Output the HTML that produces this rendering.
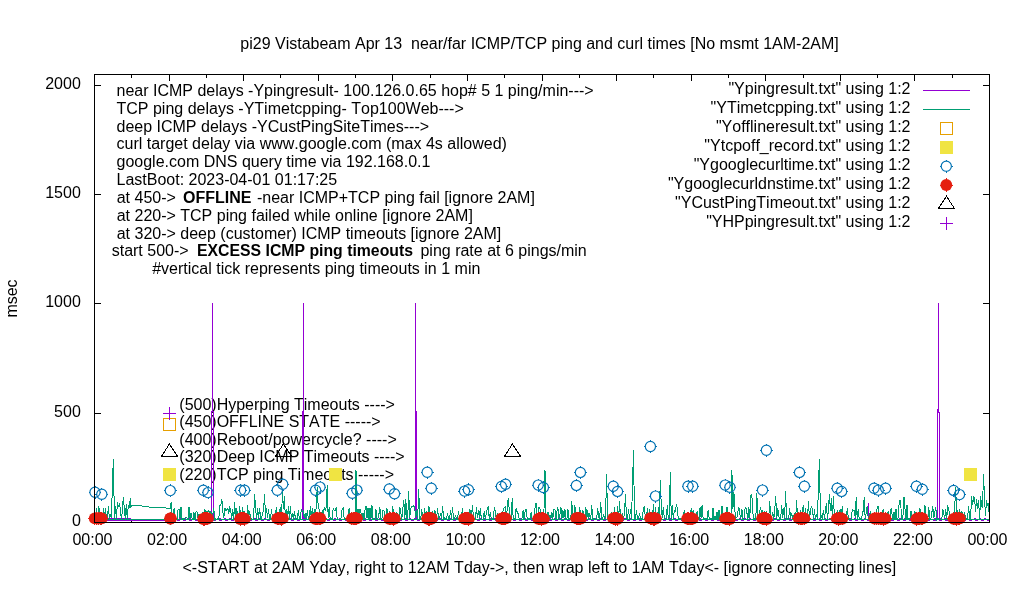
<!DOCTYPE html>
<html><head><meta charset="utf-8"><style>
html,body{margin:0;padding:0;background:#fff;width:1020px;height:600px;overflow:hidden}
svg{display:block;will-change:transform}
text{font-family:"Liberation Sans",sans-serif;-webkit-font-smoothing:antialiased;font-kerning:none}
path,rect,polyline{shape-rendering:crispEdges}
</style></head><body>
<svg width="1020" height="600" viewBox="0 0 1020 600">
<rect width="1020" height="600" fill="#fff"/>
<g font-family="Liberation Sans, sans-serif" font-size="16" fill="#000">
<text x="539.5" y="48.8" text-anchor="middle" xml:space="preserve">pi29 Vistabeam Apr 13  near/far ICMP/TCP ping and curl times [No msmt 1AM-2AM]</text>
<text x="80.8" y="525.8" text-anchor="end">0</text>
<text x="80.8" y="416.8" text-anchor="end">500</text>
<text x="80.8" y="306.8" text-anchor="end">1000</text>
<text x="80.8" y="197.8" text-anchor="end">1500</text>
<text x="80.8" y="88.8" text-anchor="end">2000</text>
<text x="92.5" y="544.7" text-anchor="middle">00:00</text>
<text x="167.1" y="544.7" text-anchor="middle">02:00</text>
<text x="241.7" y="544.7" text-anchor="middle">04:00</text>
<text x="316.2" y="544.7" text-anchor="middle">06:00</text>
<text x="390.8" y="544.7" text-anchor="middle">08:00</text>
<text x="465.4" y="544.7" text-anchor="middle">10:00</text>
<text x="540.0" y="544.7" text-anchor="middle">12:00</text>
<text x="614.6" y="544.7" text-anchor="middle">14:00</text>
<text x="689.2" y="544.7" text-anchor="middle">16:00</text>
<text x="763.8" y="544.7" text-anchor="middle">18:00</text>
<text x="838.3" y="544.7" text-anchor="middle">20:00</text>
<text x="912.9" y="544.7" text-anchor="middle">22:00</text>
<text x="987.5" y="544.7" text-anchor="middle">00:00</text>
<text x="539.3" y="572.7" text-anchor="middle">&lt;-START at 2AM Yday, right to 12AM Tday-&gt;, then wrap left to 1AM Tday&lt;- [ignore connecting lines]</text>
<text transform="translate(17,298.5) rotate(-90)" text-anchor="middle">msec</text>
<text x="116.5" y="95.8" text-anchor="start">near ICMP delays -Ypingresult- 100.126.0.65 hop# 5 1 ping/min---&gt;</text>
<text x="116.5" y="113.65" text-anchor="start">TCP ping delays -YTimetcpping- Top100Web---&gt;</text>
<text x="116.5" y="131.5" text-anchor="start">deep ICMP delays -YCustPingSiteTimes---&gt;</text>
<text x="116.5" y="149.35" text-anchor="start">curl target delay via www.google.com (max 4s allowed)</text>
<text x="116.5" y="167.2" text-anchor="start">google.com DNS query time via 192.168.0.1</text>
<text x="116.5" y="185.05" text-anchor="start">LastBoot: 2023-04-01 01:17:25</text>
<text x="116.7" y="202.9">at 450-&gt;</text>
<text x="183" y="202.9" font-weight="bold">OFFLINE</text>
<text x="252.5" y="202.9" xml:space="preserve"> -near ICMP+TCP ping fail [ignore 2AM]</text>
<text x="116.7" y="220.75" text-anchor="start">at 220-&gt; TCP ping failed while online [ignore 2AM]</text>
<text x="116.7" y="238.6" text-anchor="start">at 320-&gt; deep (customer) ICMP timeouts [ignore 2AM]</text>
<text x="111.7" y="256.45">start 500-&gt;</text>
<text x="197" y="256.45" font-weight="bold" textLength="216" lengthAdjust="spacingAndGlyphs">EXCESS ICMP ping timeouts</text>
<text x="416" y="256.45" xml:space="preserve"> ping rate at 6 pings/min</text>
<text x="152.2" y="274.3" text-anchor="start">#vertical tick represents ping timeouts in 1 min</text>
<text x="179.3" y="409.6" text-anchor="start">(500)Hyperping Timeouts ----&gt;</text>
<text x="179.3" y="427.0" text-anchor="start">(450)OFFLINE STATE -----&gt;</text>
<text x="179.3" y="444.5" text-anchor="start">(400)Reboot/powercycle? ----&gt;</text>
<text x="179.3" y="462.1" text-anchor="start">(320)Deep ICMP Timeouts ----&gt;</text>
<text x="179.3" y="479.8" text-anchor="start">(220)TCP ping Timeouts -----&gt;</text>
<text x="910.5" y="93.7" text-anchor="end">"Ypingresult.txt" using 1:2</text>
<text x="910.5" y="112.7" text-anchor="end">"YTimetcpping.txt" using 1:2</text>
<text x="910.5" y="131.7" text-anchor="end">"Yofflineresult.txt" using 1:2</text>
<text x="910.5" y="150.7" text-anchor="end">"Ytcpoff_record.txt" using 1:2</text>
<text x="910.5" y="169.7" text-anchor="end">"Ygooglecurltime.txt" using 1:2</text>
<text x="910.5" y="188.7" text-anchor="end">"Ygooglecurldnstime.txt" using 1:2</text>
<text x="910.5" y="207.7" text-anchor="end">"YCustPingTimeout.txt" using 1:2</text>
<text x="910.5" y="226.7" text-anchor="end">"YHPpingresult.txt" using 1:2</text>
</g>
<path d="M94.5 85.5h6.5M989.5 85.5h-6.5M94.5 194.5h6.5M989.5 194.5h-6.5M94.5 303.5h6.5M989.5 303.5h-6.5M94.5 413.5h6.5M989.5 413.5h-6.5M131.5 522.5v-3.5M131.5 74.5v3.5M169.5 522.5v-6.5M169.5 74.5v6.5M206.5 522.5v-3.5M206.5 74.5v3.5M243.5 522.5v-6.5M243.5 74.5v6.5M280.5 522.5v-3.5M280.5 74.5v3.5M318.5 522.5v-6.5M318.5 74.5v6.5M355.5 522.5v-3.5M355.5 74.5v3.5M392.5 522.5v-6.5M392.5 74.5v6.5M430.5 522.5v-3.5M430.5 74.5v3.5M467.5 522.5v-6.5M467.5 74.5v6.5M504.5 522.5v-3.5M504.5 74.5v3.5M542.5 522.5v-6.5M542.5 74.5v6.5M579.5 522.5v-3.5M579.5 74.5v3.5M616.5 522.5v-6.5M616.5 74.5v6.5M653.5 522.5v-3.5M653.5 74.5v3.5M691.5 522.5v-6.5M691.5 74.5v6.5M728.5 522.5v-3.5M728.5 74.5v3.5M765.5 522.5v-6.5M765.5 74.5v6.5M803.5 522.5v-3.5M803.5 74.5v3.5M840.5 522.5v-6.5M840.5 74.5v6.5M877.5 522.5v-3.5M877.5 74.5v3.5M914.5 522.5v-6.5M914.5 74.5v6.5M952.5 522.5v-3.5M952.5 74.5v3.5" stroke="#000" stroke-width="1" fill="none"/>
<g>
<polyline points="169.1,518.5 989.5,518.5" fill="none" stroke="#9400d3" stroke-width="1.0" stroke-linejoin="miter" shape-rendering="crispEdges" stroke-dasharray="2 3"/>
<polyline points="989.5,520.5 94.5,520.5" fill="none" stroke="#9400d3" stroke-width="1.0" stroke-linejoin="miter" shape-rendering="crispEdges" stroke-dasharray="3 3"/>
<polyline points="100.0,520.5 170.0,520.5" fill="none" stroke="#9400d3" stroke-width="1.0" stroke-linejoin="miter" shape-rendering="crispEdges"/>
<polyline points="100.0,518.5 131.0,518.5" fill="none" stroke="#9400d3" stroke-width="1.0" stroke-linejoin="miter" shape-rendering="crispEdges"/>
<path d="M211.5 519V411.5H212.5V303V411H213.5V519M302.5 519V411H303.5V303V519M415.5 519V303V411H416.5V519M937.5 519V409H938.5V303V412H939.5V519M868.5 519V503" stroke="#9400d3" stroke-width="1" fill="none"/>
<polyline points="169.1,508.8 170.1,508.6 171.1,502.2 172.1,518.5 173.1,517.9 174.1,508.1 175.1,518.8 176.0,519.4 177.0,519.7 178.0,509.8 179.0,509.3 180.0,517.9 181.0,506.8 182.0,519.2 183.0,518.3 184.0,518.2 185.0,518.0 186.0,517.0 187.0,517.9 188.0,519.6 189.0,507.3 190.0,518.0 191.0,513.4 192.0,518.3 193.0,518.7 193.9,512.3 194.9,519.5 195.9,512.0 196.9,511.0 197.9,518.2 198.9,513.7 199.9,518.3 200.9,519.2 201.9,519.6 202.9,511.7 203.9,518.0 204.9,508.7 205.9,518.1 206.9,511.6 207.9,512.2 208.9,509.9 209.9,519.3 210.9,511.5 211.8,519.4 212.8,514.3 213.8,508.4 214.8,519.7 215.8,518.9 216.8,519.4 217.8,518.7 218.8,519.1 219.8,505.2 220.8,505.0 221.8,498.9 222.8,510.9 223.8,518.4 224.8,507.6 225.8,510.5 226.8,510.0 227.8,508.3 228.8,514.0 229.7,507.6 230.7,509.8 231.7,519.7 232.7,509.4 233.7,518.6 234.7,502.2 235.7,519.4 236.7,508.1 237.7,518.5 238.7,518.9 239.7,506.2 240.7,519.2 241.7,518.8 242.7,506.8 243.7,519.4 244.7,511.3 245.7,518.8 246.7,518.2 247.6,504.9 248.6,518.4 249.6,511.0 250.6,518.9 251.6,518.2 252.6,519.5 253.6,518.6 254.6,493.7 255.6,507.9 256.6,519.7 257.6,507.7 258.6,518.5 259.6,508.4 260.6,518.1 261.6,518.0 262.6,513.2 263.6,510.3 264.6,494.0 265.5,518.4 266.5,508.2 267.5,517.9 268.5,509.0 269.5,518.2 270.5,519.6 271.5,508.9 272.5,518.2 273.5,518.3 274.5,519.1 275.5,513.0 276.5,506.8 277.5,518.0 278.5,519.3 279.5,511.2 280.5,506.8 281.5,518.2 282.5,490.0 283.4,508.7 284.4,495.7 285.4,518.3 286.4,509.3 287.4,519.0 288.4,506.1 289.4,518.9 290.4,506.3 291.4,518.6 292.4,513.2 293.4,519.3 294.4,510.8 295.4,518.4 296.4,518.8 297.4,519.4 298.4,509.8 299.4,519.5 300.3,518.6 301.3,509.0 302.3,511.8 303.3,510.9 304.3,517.9 305.3,513.1 306.3,519.6 307.3,509.9 308.3,518.5 309.3,519.4 310.3,506.2 311.3,518.3 312.3,507.9 313.3,519.7 314.3,509.1 315.3,519.4 316.3,505.0 317.3,487.0 318.2,507.4 319.2,509.8 320.2,518.2 321.2,518.9 322.2,510.1 323.2,519.7 324.2,507.1 325.2,510.1 326.2,507.1 327.2,485.0 328.2,518.1 329.2,507.4 330.2,519.6 331.2,518.9 332.2,519.1 333.2,508.3 334.2,510.7 335.2,510.2 336.1,507.4 337.1,518.4 338.1,519.0 339.1,519.4 340.1,519.6 341.1,518.1 342.1,509.2 343.1,508.2 344.1,518.3 345.1,518.0 346.1,518.9 347.1,518.8 348.1,514.5 349.1,508.5 350.1,518.7 351.1,518.4 352.1,519.7 353.1,519.7 354.0,518.3 355.0,518.1 356.0,470.2 357.0,518.1 358.0,509.4 359.0,518.0 360.0,509.5 361.0,513.4 362.0,519.7 363.0,513.3 364.0,519.3 365.0,509.9 366.0,505.7 367.0,518.1 368.0,508.3 369.0,518.7 370.0,508.3 371.0,517.9 371.9,504.6 372.9,518.6 373.9,518.7 374.9,519.6 375.9,508.9 376.9,519.4 377.9,518.4 378.9,514.2 379.9,507.4 380.9,518.2 381.9,518.5 382.9,510.8 383.9,509.9 384.9,519.6 385.9,518.7 386.9,507.9 387.9,519.4 388.9,514.0 389.8,511.2 390.8,519.1 391.8,518.4 392.8,506.1 393.8,518.3 394.8,519.2 395.8,518.0 396.8,511.6 397.8,519.0 398.8,519.4 399.8,507.2 400.8,512.5 401.8,519.7 402.8,508.9 403.8,499.8 404.8,519.6 405.8,499.0 406.8,518.5 407.7,519.3 408.7,491.4 409.7,517.9 410.7,509.3 411.7,506.2 412.7,506.7 413.7,505.6 414.7,507.1 415.7,518.4 416.7,510.3 417.7,519.2 418.7,489.0 419.7,518.3 420.7,519.6 421.7,508.6 422.7,519.4 423.7,519.3 424.7,508.5 425.6,519.4 426.6,510.9 427.6,519.3 428.6,506.2 429.6,509.4 430.6,518.3 431.6,518.8 432.6,511.3 433.6,519.7 434.6,510.4 435.6,512.8 436.6,518.1 437.6,508.2 438.6,519.5 439.6,516.8 440.6,514.0 441.6,518.9 442.6,505.7 443.6,518.3 444.5,518.0 445.5,518.2 446.5,518.7 447.5,512.8 448.5,519.6 449.5,518.9 450.5,510.5 451.5,518.9 452.5,506.9 453.5,518.4 454.5,518.7 455.5,516.1 456.5,518.6 457.5,519.0 458.5,511.1 459.5,519.3 460.5,518.4 461.5,518.0 462.4,507.6 463.4,519.5 464.4,518.5 465.4,512.5 466.4,513.9 467.4,519.0 468.4,518.0 469.4,509.2 470.4,510.2 471.4,519.0 472.4,505.2 473.4,515.7 474.4,519.6 475.4,518.8 476.4,507.0 477.4,518.1 478.4,510.5 479.4,517.9 480.3,507.7 481.3,518.6 482.3,519.6 483.3,518.7 484.3,510.8 485.3,519.5 486.3,513.1 487.3,508.8 488.3,507.0 489.3,519.2 490.3,511.7 491.3,518.7 492.3,519.7 493.3,517.9 494.3,508.1 495.3,510.3 496.3,519.4 497.3,513.0 498.2,518.8 499.2,518.7 500.2,518.6 501.2,518.5 502.2,518.0 503.2,509.5 504.2,507.4 505.2,506.9 506.2,518.7 507.2,509.1 508.2,498.1 509.2,508.5 510.2,519.6 511.2,518.9 512.2,498.4 513.2,519.2 514.2,519.3 515.2,518.1 516.1,508.0 517.1,511.9 518.1,513.7 519.1,518.0 520.1,519.3 521.1,519.1 522.1,518.1 523.1,510.1 524.1,519.7 525.1,511.0 526.1,509.5 527.1,518.1 528.1,518.2 529.1,518.9 530.1,518.1 531.1,512.2 532.1,519.7 533.1,518.4 534.0,518.1 535.0,507.7 536.0,503.0 537.0,519.4 538.0,519.3 539.0,507.2 540.0,508.6 541.0,518.5 542.0,518.6 543.0,517.9 544.0,509.0 545.0,470.0 546.0,518.3 547.0,519.2 548.0,511.6 549.0,518.1 550.0,515.2 551.0,518.0 551.9,512.5 552.9,518.5 553.9,509.1 554.9,509.1 555.9,519.4 556.9,511.8 557.9,507.2 558.9,518.7 559.9,515.1 560.9,506.6 561.9,518.8 562.9,509.7 563.9,518.1 564.9,508.9 565.9,519.2 566.9,519.2 567.9,509.1 568.9,518.2 569.8,519.3 570.8,518.5 571.8,501.2 572.8,517.9 573.8,518.8 574.8,505.1 575.8,515.0 576.8,519.0 577.8,519.0 578.8,519.7 579.8,507.4 580.8,518.7 581.8,518.9 582.8,510.4 583.8,515.0 584.8,519.1 585.8,506.6 586.8,519.0 587.7,510.3 588.7,519.4 589.7,512.7 590.7,519.2 591.7,504.8 592.7,519.0 593.7,518.5 594.7,519.2 595.7,519.4 596.7,519.0 597.7,507.7 598.7,518.0 599.7,518.3 600.7,502.0 601.7,518.1 602.7,518.3 603.7,514.6 604.7,519.5 605.6,515.2 606.6,474.0 607.6,518.5 608.6,519.4 609.6,518.4 610.6,519.0 611.6,511.9 612.6,519.7 613.6,518.6 614.6,507.1 615.6,518.0 616.6,518.5 617.6,505.7 618.6,519.6 619.6,501.4 620.6,519.2 621.6,519.0 622.6,512.6 623.5,519.1 624.5,512.9 625.5,494.0 626.5,519.0 627.5,518.8 628.5,509.5 629.5,519.1 630.5,508.8 631.5,518.9 632.5,485.0 633.5,450.0 634.5,519.0 635.5,518.2 636.5,510.3 637.5,518.8 638.5,519.1 639.5,512.9 640.5,519.3 641.4,518.7 642.4,519.3 643.4,508.1 644.4,506.9 645.4,518.1 646.4,518.4 647.4,507.9 648.4,518.6 649.4,508.8 650.4,518.8 651.4,519.3 652.4,519.4 653.4,504.5 654.4,519.5 655.4,507.3 656.4,518.1 657.4,519.3 658.4,507.2 659.3,518.4 660.3,480.0 661.3,506.8 662.3,518.4 663.3,506.9 664.3,518.5 665.3,519.4 666.3,518.7 667.3,505.4 668.3,518.6 669.3,518.0 670.3,472.0 671.3,519.2 672.3,504.8 673.3,518.7 674.3,510.3 675.3,511.2 676.3,505.2 677.2,507.1 678.2,518.0 679.2,518.8 680.2,519.1 681.2,518.7 682.2,518.6 683.2,519.3 684.2,510.4 685.2,518.1 686.2,519.6 687.2,518.8 688.2,512.2 689.2,518.2 690.2,519.6 691.2,508.1 692.2,518.1 693.2,509.7 694.2,519.7 695.1,519.5 696.1,519.1 697.1,511.0 698.1,518.0 699.1,518.8 700.1,507.2 701.1,518.2 702.1,505.1 703.1,518.4 704.1,518.1 705.1,518.7 706.1,519.0 707.1,518.5 708.1,510.4 709.1,518.1 710.1,519.6 711.1,518.4 712.1,518.4 713.0,507.9 714.0,519.1 715.0,516.1 716.0,518.7 717.0,512.1 718.0,519.5 719.0,509.8 720.0,518.4 721.0,519.2 722.0,505.8 723.0,517.9 724.0,518.6 725.0,518.6 726.0,518.6 727.0,506.7 728.0,513.4 729.0,518.5 730.0,519.0 730.9,518.6 731.9,470.3 732.9,508.5 733.9,492.0 734.9,510.9 735.9,518.1 736.9,517.9 737.9,511.8 738.9,506.9 739.9,514.4 740.9,518.2 741.9,509.0 742.9,518.6 743.9,518.7 744.9,509.3 745.9,507.3 746.9,512.8 747.9,519.1 748.8,506.9 749.8,518.2 750.8,495.5 751.8,494.0 752.8,512.2 753.8,519.1 754.8,518.6 755.8,518.6 756.8,493.0 757.8,519.5 758.8,518.0 759.8,510.5 760.8,507.6 761.8,519.5 762.8,509.9 763.8,518.8 764.8,510.6 765.8,519.2 766.7,511.2 767.7,518.0 768.7,518.4 769.7,501.1 770.7,518.0 771.7,518.5 772.7,511.7 773.7,519.3 774.7,510.6 775.7,496.4 776.7,519.1 777.7,508.0 778.7,515.5 779.7,518.9 780.7,518.5 781.7,505.4 782.7,518.2 783.7,507.8 784.6,519.0 785.6,491.0 786.6,519.5 787.6,518.4 788.6,519.4 789.6,508.3 790.6,518.4 791.6,513.3 792.6,518.0 793.6,515.5 794.6,513.5 795.6,519.5 796.6,500.2 797.6,519.3 798.6,519.6 799.6,518.9 800.6,509.6 801.6,519.5 802.5,509.1 803.5,505.5 804.5,518.2 805.5,507.7 806.5,519.5 807.5,518.0 808.5,501.1 809.5,519.5 810.5,510.8 811.5,505.8 812.5,510.2 813.5,519.1 814.5,509.5 815.5,519.7 816.5,514.4 817.5,519.3 818.5,482.0 819.5,459.0 820.4,518.4 821.4,516.2 822.4,518.6 823.4,510.4 824.4,518.6 825.4,510.9 826.4,502.7 827.4,519.0 828.4,510.1 829.4,494.0 830.4,510.8 831.4,497.7 832.4,518.7 833.4,496.0 834.4,516.4 835.4,517.9 836.4,514.1 837.4,510.3 838.3,519.2 839.3,514.2 840.3,508.9 841.3,518.0 842.3,506.1 843.3,518.2 844.3,518.1 845.3,515.2 846.3,518.0 847.3,507.9 848.3,518.4 849.3,518.7 850.3,519.1 851.3,519.1 852.3,509.1 853.3,510.5 854.3,510.8 855.3,518.4 856.2,497.1 857.2,518.9 858.2,508.8 859.2,518.8 860.2,518.3 861.2,519.2 862.2,515.1 863.2,510.7 864.2,497.5 865.2,518.8 866.2,513.3 867.2,506.1 868.2,518.4 869.2,518.2 870.2,511.4 871.2,519.3 872.2,519.3 873.2,518.8 874.1,519.2 875.1,518.8 876.1,512.7 877.1,508.9 878.1,506.1 879.1,518.0 880.1,518.3 881.1,518.9 882.1,518.4 883.1,509.2 884.1,518.0 885.1,518.0 886.1,514.2 887.1,519.5 888.1,511.0 889.1,519.6 890.1,518.7 891.1,507.9 892.0,514.1 893.0,519.1 894.0,512.2 895.0,519.6 896.0,508.8 897.0,519.2 898.0,518.4 899.0,505.3 900.0,500.4 901.0,508.4 902.0,518.8 903.0,515.2 904.0,497.0 905.0,508.7 906.0,519.6 907.0,505.3 908.0,519.1 909.0,518.3 909.9,518.7 910.9,510.7 911.9,518.1 912.9,519.5 913.9,518.9 914.9,510.7 915.9,518.8 916.9,518.1 917.9,519.3 918.9,519.1 919.9,508.0 920.9,518.3 921.9,519.3 922.9,517.9 923.9,519.1 924.9,504.9 925.9,518.3 926.9,518.3 927.8,519.2 928.8,507.5 929.8,518.8 930.8,519.6 931.8,513.0 932.8,506.0 933.8,518.4 934.8,512.3 935.8,507.6 936.8,519.5 937.8,518.0 938.8,519.4 939.8,519.7 940.8,519.4 941.8,518.8 942.8,508.7 943.8,514.0 944.8,518.3 945.7,509.2 946.7,519.2 947.7,505.4 948.7,509.5 949.7,515.5 950.7,519.4 951.7,518.4 952.7,519.7 953.7,518.3 954.7,508.1 955.7,487.0 956.7,519.3 957.7,510.4 958.7,519.1 959.7,508.6 960.7,519.1 961.7,511.8 962.7,512.7 963.6,519.4 964.6,511.8 965.6,519.2 966.6,518.5 967.6,518.7 968.6,506.1 969.6,518.8 970.6,518.7 971.6,496.0 972.6,505.4 973.6,497.0 974.6,498.0 975.6,511.5 976.6,499.0 977.6,509.3 978.6,500.0 979.6,519.4 980.6,496.0 981.5,505.2 982.5,507.7 983.5,474.0 984.5,497.0 985.5,515.5 986.5,500.0 987.5,506.0 988.5,503.0 989.5,519.5 94.5,519.5 94.5,506.6 95.5,518.3 96.5,508.3 97.5,518.1 98.5,507.2 99.5,508.2 100.5,519.7 101.5,518.3 102.5,518.5 103.5,507.8 104.4,519.4 105.4,507.9 106.4,518.1 107.4,518.0 108.4,506.0 109.4,518.8 110.4,515.1 111.4,518.4 112.4,484.0 113.4,459.0 114.4,519.1 115.4,505.8 116.4,519.3 117.4,502.0 118.4,507.4 119.4,503.0 120.4,509.0 121.3,519.5 122.3,511.4 123.3,497.0 124.3,507.8 125.3,518.9 126.3,504.5 127.3,518.9 128.3,505.0 129.3,507.5 130.3,498.2" fill="none" stroke="#009e73" stroke-width="1.0" stroke-linejoin="miter" shape-rendering="crispEdges"/>
<polyline points="130.3,498.2 130.5,508.0 131.8,505.5 138.5,505.5 150.5,507.2 162.0,507.5 169.5,508.5 169.1,508.8" fill="none" stroke="#009e73" stroke-width="1.0" stroke-linejoin="miter" shape-rendering="crispEdges"/>
</g>
<rect x="163.3" y="418.3" width="12.4" height="12.4" stroke="#e69f00" stroke-width="1" fill="none"/>
<rect x="163.1" y="468.0" width="12.8" height="12.8" fill="#f0e442"/>
<rect x="329.1" y="468.0" width="12.8" height="12.8" fill="#f0e442"/>
<rect x="964.1" y="468.0" width="12.8" height="12.8" fill="#f0e442"/>
<circle cx="95.0" cy="492.2" r="5.1" stroke="#0072b2" stroke-width="1.15" fill="none"/><path d="M88.6 492.2h1.2M101.4 492.2h-1.2M95.0 485.8v1.2M95.0 498.6v-1.2" stroke="#0072b2" stroke-width="1" fill="none"/>
<circle cx="101.8" cy="494.2" r="5.1" stroke="#0072b2" stroke-width="1.15" fill="none"/><path d="M95.4 494.2h1.2M108.2 494.2h-1.2M101.8 487.8v1.2M101.8 500.6v-1.2" stroke="#0072b2" stroke-width="1" fill="none"/>
<circle cx="170.3" cy="490.6" r="5.1" stroke="#0072b2" stroke-width="1.15" fill="none"/><path d="M163.9 490.6h1.2M176.7 490.6h-1.2M170.3 484.2v1.2M170.3 497.0v-1.2" stroke="#0072b2" stroke-width="1" fill="none"/>
<circle cx="203.3" cy="490.3" r="5.1" stroke="#0072b2" stroke-width="1.15" fill="none"/><path d="M196.9 490.3h1.2M209.7 490.3h-1.2M203.3 483.9v1.2M203.3 496.7v-1.2" stroke="#0072b2" stroke-width="1" fill="none"/>
<circle cx="208.0" cy="492.6" r="5.1" stroke="#0072b2" stroke-width="1.15" fill="none"/><path d="M201.6 492.6h1.2M214.4 492.6h-1.2M208.0 486.2v1.2M208.0 499.0v-1.2" stroke="#0072b2" stroke-width="1" fill="none"/>
<circle cx="240.6" cy="490.3" r="5.1" stroke="#0072b2" stroke-width="1.15" fill="none"/><path d="M234.2 490.3h1.2M247.0 490.3h-1.2M240.6 483.9v1.2M240.6 496.7v-1.2" stroke="#0072b2" stroke-width="1" fill="none"/>
<circle cx="244.5" cy="490.3" r="5.1" stroke="#0072b2" stroke-width="1.15" fill="none"/><path d="M238.1 490.3h1.2M250.9 490.3h-1.2M244.5 483.9v1.2M244.5 496.7v-1.2" stroke="#0072b2" stroke-width="1" fill="none"/>
<circle cx="277.3" cy="490.3" r="5.1" stroke="#0072b2" stroke-width="1.15" fill="none"/><path d="M270.9 490.3h1.2M283.7 490.3h-1.2M277.3 483.9v1.2M277.3 496.7v-1.2" stroke="#0072b2" stroke-width="1" fill="none"/>
<circle cx="282.7" cy="484.3" r="5.1" stroke="#0072b2" stroke-width="1.15" fill="none"/><path d="M276.3 484.3h1.2M289.1 484.3h-1.2M282.7 477.9v1.2M282.7 490.7v-1.2" stroke="#0072b2" stroke-width="1" fill="none"/>
<circle cx="315.6" cy="490.3" r="5.1" stroke="#0072b2" stroke-width="1.15" fill="none"/><path d="M309.2 490.3h1.2M322.0 490.3h-1.2M315.6 483.9v1.2M315.6 496.7v-1.2" stroke="#0072b2" stroke-width="1" fill="none"/>
<circle cx="320.0" cy="487.1" r="5.1" stroke="#0072b2" stroke-width="1.15" fill="none"/><path d="M313.6 487.1h1.2M326.4 487.1h-1.2M320.0 480.7v1.2M320.0 493.5v-1.2" stroke="#0072b2" stroke-width="1" fill="none"/>
<circle cx="352.3" cy="493.3" r="5.1" stroke="#0072b2" stroke-width="1.15" fill="none"/><path d="M345.9 493.3h1.2M358.7 493.3h-1.2M352.3 486.9v1.2M352.3 499.7v-1.2" stroke="#0072b2" stroke-width="1" fill="none"/>
<circle cx="356.9" cy="490.1" r="5.1" stroke="#0072b2" stroke-width="1.15" fill="none"/><path d="M350.5 490.1h1.2M363.3 490.1h-1.2M356.9 483.7v1.2M356.9 496.5v-1.2" stroke="#0072b2" stroke-width="1" fill="none"/>
<circle cx="389.3" cy="489.0" r="5.1" stroke="#0072b2" stroke-width="1.15" fill="none"/><path d="M382.9 489.0h1.2M395.7 489.0h-1.2M389.3 482.6v1.2M389.3 495.4v-1.2" stroke="#0072b2" stroke-width="1" fill="none"/>
<circle cx="394.5" cy="493.7" r="5.1" stroke="#0072b2" stroke-width="1.15" fill="none"/><path d="M388.1 493.7h1.2M400.9 493.7h-1.2M394.5 487.3v1.2M394.5 500.1v-1.2" stroke="#0072b2" stroke-width="1" fill="none"/>
<circle cx="427.2" cy="472.2" r="5.1" stroke="#0072b2" stroke-width="1.15" fill="none"/><path d="M420.8 472.2h1.2M433.6 472.2h-1.2M427.2 465.8v1.2M427.2 478.6v-1.2" stroke="#0072b2" stroke-width="1" fill="none"/>
<circle cx="431.3" cy="488.2" r="5.1" stroke="#0072b2" stroke-width="1.15" fill="none"/><path d="M424.9 488.2h1.2M437.7 488.2h-1.2M431.3 481.8v1.2M431.3 494.6v-1.2" stroke="#0072b2" stroke-width="1" fill="none"/>
<circle cx="464.5" cy="491.1" r="5.1" stroke="#0072b2" stroke-width="1.15" fill="none"/><path d="M458.1 491.1h1.2M470.9 491.1h-1.2M464.5 484.7v1.2M464.5 497.5v-1.2" stroke="#0072b2" stroke-width="1" fill="none"/>
<circle cx="468.4" cy="489.8" r="5.1" stroke="#0072b2" stroke-width="1.15" fill="none"/><path d="M462.0 489.8h1.2M474.8 489.8h-1.2M468.4 483.4v1.2M468.4 496.2v-1.2" stroke="#0072b2" stroke-width="1" fill="none"/>
<circle cx="501.4" cy="486.4" r="5.1" stroke="#0072b2" stroke-width="1.15" fill="none"/><path d="M495.0 486.4h1.2M507.8 486.4h-1.2M501.4 480.0v1.2M501.4 492.8v-1.2" stroke="#0072b2" stroke-width="1" fill="none"/>
<circle cx="505.6" cy="484.3" r="5.1" stroke="#0072b2" stroke-width="1.15" fill="none"/><path d="M499.2 484.3h1.2M512.0 484.3h-1.2M505.6 477.9v1.2M505.6 490.7v-1.2" stroke="#0072b2" stroke-width="1" fill="none"/>
<circle cx="538.2" cy="485.1" r="5.1" stroke="#0072b2" stroke-width="1.15" fill="none"/><path d="M531.8 485.1h1.2M544.6 485.1h-1.2M538.2 478.7v1.2M538.2 491.5v-1.2" stroke="#0072b2" stroke-width="1" fill="none"/>
<circle cx="543.4" cy="487.5" r="5.1" stroke="#0072b2" stroke-width="1.15" fill="none"/><path d="M537.0 487.5h1.2M549.8 487.5h-1.2M543.4 481.1v1.2M543.4 493.9v-1.2" stroke="#0072b2" stroke-width="1" fill="none"/>
<circle cx="580.4" cy="472.4" r="5.1" stroke="#0072b2" stroke-width="1.15" fill="none"/><path d="M574.0 472.4h1.2M586.8 472.4h-1.2M580.4 466.0v1.2M580.4 478.8v-1.2" stroke="#0072b2" stroke-width="1" fill="none"/>
<circle cx="576.4" cy="485.4" r="5.1" stroke="#0072b2" stroke-width="1.15" fill="none"/><path d="M570.0 485.4h1.2M582.8 485.4h-1.2M576.4 479.0v1.2M576.4 491.8v-1.2" stroke="#0072b2" stroke-width="1" fill="none"/>
<circle cx="613.3" cy="486.2" r="5.1" stroke="#0072b2" stroke-width="1.15" fill="none"/><path d="M606.9 486.2h1.2M619.7 486.2h-1.2M613.3 479.8v1.2M613.3 492.6v-1.2" stroke="#0072b2" stroke-width="1" fill="none"/>
<circle cx="617.5" cy="491.4" r="5.1" stroke="#0072b2" stroke-width="1.15" fill="none"/><path d="M611.1 491.4h1.2M623.9 491.4h-1.2M617.5 485.0v1.2M617.5 497.8v-1.2" stroke="#0072b2" stroke-width="1" fill="none"/>
<circle cx="650.4" cy="446.5" r="5.1" stroke="#0072b2" stroke-width="1.15" fill="none"/><path d="M644.0 446.5h1.2M656.8 446.5h-1.2M650.4 440.1v1.2M650.4 452.9v-1.2" stroke="#0072b2" stroke-width="1" fill="none"/>
<circle cx="655.5" cy="496.1" r="5.1" stroke="#0072b2" stroke-width="1.15" fill="none"/><path d="M649.1 496.1h1.2M661.9 496.1h-1.2M655.5 489.7v1.2M655.5 502.5v-1.2" stroke="#0072b2" stroke-width="1" fill="none"/>
<circle cx="688.0" cy="486.2" r="5.1" stroke="#0072b2" stroke-width="1.15" fill="none"/><path d="M681.6 486.2h1.2M694.4 486.2h-1.2M688.0 479.8v1.2M688.0 492.6v-1.2" stroke="#0072b2" stroke-width="1" fill="none"/>
<circle cx="692.7" cy="486.2" r="5.1" stroke="#0072b2" stroke-width="1.15" fill="none"/><path d="M686.3 486.2h1.2M699.1 486.2h-1.2M692.7 479.8v1.2M692.7 492.6v-1.2" stroke="#0072b2" stroke-width="1" fill="none"/>
<circle cx="725.1" cy="485.1" r="5.1" stroke="#0072b2" stroke-width="1.15" fill="none"/><path d="M718.7 485.1h1.2M731.5 485.1h-1.2M725.1 478.7v1.2M725.1 491.5v-1.2" stroke="#0072b2" stroke-width="1" fill="none"/>
<circle cx="729.9" cy="487.3" r="5.1" stroke="#0072b2" stroke-width="1.15" fill="none"/><path d="M723.5 487.3h1.2M736.3 487.3h-1.2M729.9 480.9v1.2M729.9 493.7v-1.2" stroke="#0072b2" stroke-width="1" fill="none"/>
<circle cx="766.4" cy="450.3" r="5.1" stroke="#0072b2" stroke-width="1.15" fill="none"/><path d="M760.0 450.3h1.2M772.8 450.3h-1.2M766.4 443.9v1.2M766.4 456.7v-1.2" stroke="#0072b2" stroke-width="1" fill="none"/>
<circle cx="762.5" cy="490.1" r="5.1" stroke="#0072b2" stroke-width="1.15" fill="none"/><path d="M756.1 490.1h1.2M768.9 490.1h-1.2M762.5 483.7v1.2M762.5 496.5v-1.2" stroke="#0072b2" stroke-width="1" fill="none"/>
<circle cx="799.5" cy="472.4" r="5.1" stroke="#0072b2" stroke-width="1.15" fill="none"/><path d="M793.1 472.4h1.2M805.9 472.4h-1.2M799.5 466.0v1.2M799.5 478.8v-1.2" stroke="#0072b2" stroke-width="1" fill="none"/>
<circle cx="804.4" cy="486.2" r="5.1" stroke="#0072b2" stroke-width="1.15" fill="none"/><path d="M798.0 486.2h1.2M810.8 486.2h-1.2M804.4 479.8v1.2M804.4 492.6v-1.2" stroke="#0072b2" stroke-width="1" fill="none"/>
<circle cx="837.2" cy="488.2" r="5.1" stroke="#0072b2" stroke-width="1.15" fill="none"/><path d="M830.8 488.2h1.2M843.6 488.2h-1.2M837.2 481.8v1.2M837.2 494.6v-1.2" stroke="#0072b2" stroke-width="1" fill="none"/>
<circle cx="841.6" cy="491.4" r="5.1" stroke="#0072b2" stroke-width="1.15" fill="none"/><path d="M835.2 491.4h1.2M848.0 491.4h-1.2M841.6 485.0v1.2M841.6 497.8v-1.2" stroke="#0072b2" stroke-width="1" fill="none"/>
<circle cx="874.0" cy="488.2" r="5.1" stroke="#0072b2" stroke-width="1.15" fill="none"/><path d="M867.6 488.2h1.2M880.4 488.2h-1.2M874.0 481.8v1.2M874.0 494.6v-1.2" stroke="#0072b2" stroke-width="1" fill="none"/>
<circle cx="878.3" cy="490.1" r="5.1" stroke="#0072b2" stroke-width="1.15" fill="none"/><path d="M871.9 490.1h1.2M884.7 490.1h-1.2M878.3 483.7v1.2M878.3 496.5v-1.2" stroke="#0072b2" stroke-width="1" fill="none"/>
<circle cx="885.6" cy="488.2" r="5.1" stroke="#0072b2" stroke-width="1.15" fill="none"/><path d="M879.2 488.2h1.2M892.0 488.2h-1.2M885.6 481.8v1.2M885.6 494.6v-1.2" stroke="#0072b2" stroke-width="1" fill="none"/>
<circle cx="916.4" cy="486.2" r="5.1" stroke="#0072b2" stroke-width="1.15" fill="none"/><path d="M910.0 486.2h1.2M922.8 486.2h-1.2M916.4 479.8v1.2M916.4 492.6v-1.2" stroke="#0072b2" stroke-width="1" fill="none"/>
<circle cx="922.3" cy="489.3" r="5.1" stroke="#0072b2" stroke-width="1.15" fill="none"/><path d="M915.9 489.3h1.2M928.7 489.3h-1.2M922.3 482.9v1.2M922.3 495.7v-1.2" stroke="#0072b2" stroke-width="1" fill="none"/>
<circle cx="953.6" cy="490.4" r="5.1" stroke="#0072b2" stroke-width="1.15" fill="none"/><path d="M947.2 490.4h1.2M960.0 490.4h-1.2M953.6 484.0v1.2M953.6 496.8v-1.2" stroke="#0072b2" stroke-width="1" fill="none"/>
<circle cx="959.5" cy="494.6" r="5.1" stroke="#0072b2" stroke-width="1.15" fill="none"/><path d="M953.1 494.6h1.2M965.9 494.6h-1.2M959.5 488.2v1.2M959.5 501.0v-1.2" stroke="#0072b2" stroke-width="1" fill="none"/>
<circle cx="94.7" cy="518.3" r="5.9" fill="#e51e10"/><path d="M88.1 518.3h1.2M101.3 518.3h-1.2M94.7 511.7v1.2M94.7 524.9v-1.2" stroke="#e51e10" stroke-width="1" fill="none"/>
<circle cx="96.5" cy="518.2" r="5.9" fill="#e51e10"/><path d="M89.9 518.2h1.2M103.1 518.2h-1.2M96.5 511.6v1.2M96.5 524.8v-1.2" stroke="#e51e10" stroke-width="1" fill="none"/>
<circle cx="98.2" cy="518.6" r="5.9" fill="#e51e10"/><path d="M91.7 518.6h1.2M104.8 518.6h-1.2M98.2 512.0v1.2M98.2 525.2v-1.2" stroke="#e51e10" stroke-width="1" fill="none"/>
<circle cx="100.0" cy="518.2" r="5.9" fill="#e51e10"/><path d="M93.4 518.2h1.2M106.6 518.2h-1.2M100.0 511.6v1.2M100.0 524.8v-1.2" stroke="#e51e10" stroke-width="1" fill="none"/>
<circle cx="101.8" cy="518.3" r="5.9" fill="#e51e10"/><path d="M95.2 518.3h1.2M108.4 518.3h-1.2M101.8 511.7v1.2M101.8 524.9v-1.2" stroke="#e51e10" stroke-width="1" fill="none"/>
<circle cx="170.2" cy="518.5" r="5.9" fill="#e51e10"/><path d="M163.6 518.5h1.2M176.8 518.5h-1.2M170.2 511.9v1.2M170.2 525.1v-1.2" stroke="#e51e10" stroke-width="1" fill="none"/>
<circle cx="170.5" cy="518.6" r="5.9" fill="#e51e10"/><path d="M163.9 518.6h1.2M177.1 518.6h-1.2M170.5 512.0v1.2M170.5 525.2v-1.2" stroke="#e51e10" stroke-width="1" fill="none"/>
<circle cx="170.8" cy="518.3" r="5.9" fill="#e51e10"/><path d="M164.2 518.3h1.2M177.4 518.3h-1.2M170.8 511.7v1.2M170.8 524.9v-1.2" stroke="#e51e10" stroke-width="1" fill="none"/>
<circle cx="203.2" cy="519.0" r="5.9" fill="#e51e10"/><path d="M196.6 519.0h1.2M209.8 519.0h-1.2M203.2 512.4v1.2M203.2 525.6v-1.2" stroke="#e51e10" stroke-width="1" fill="none"/>
<circle cx="204.3" cy="518.9" r="5.9" fill="#e51e10"/><path d="M197.8 518.9h1.2M210.9 518.9h-1.2M204.3 512.3v1.2M204.3 525.5v-1.2" stroke="#e51e10" stroke-width="1" fill="none"/>
<circle cx="205.5" cy="518.6" r="5.9" fill="#e51e10"/><path d="M198.9 518.6h1.2M212.1 518.6h-1.2M205.5 512.0v1.2M205.5 525.2v-1.2" stroke="#e51e10" stroke-width="1" fill="none"/>
<circle cx="206.6" cy="518.7" r="5.9" fill="#e51e10"/><path d="M200.0 518.7h1.2M213.2 518.7h-1.2M206.6 512.1v1.2M206.6 525.3v-1.2" stroke="#e51e10" stroke-width="1" fill="none"/>
<circle cx="207.8" cy="518.5" r="5.9" fill="#e51e10"/><path d="M201.2 518.5h1.2M214.4 518.5h-1.2M207.8 511.9v1.2M207.8 525.1v-1.2" stroke="#e51e10" stroke-width="1" fill="none"/>
<circle cx="240.2" cy="519.0" r="5.9" fill="#e51e10"/><path d="M233.6 519.0h1.2M246.8 519.0h-1.2M240.2 512.4v1.2M240.2 525.6v-1.2" stroke="#e51e10" stroke-width="1" fill="none"/>
<circle cx="241.3" cy="518.3" r="5.9" fill="#e51e10"/><path d="M234.8 518.3h1.2M247.9 518.3h-1.2M241.3 511.7v1.2M241.3 524.9v-1.2" stroke="#e51e10" stroke-width="1" fill="none"/>
<circle cx="242.5" cy="518.4" r="5.9" fill="#e51e10"/><path d="M235.9 518.4h1.2M249.1 518.4h-1.2M242.5 511.8v1.2M242.5 525.0v-1.2" stroke="#e51e10" stroke-width="1" fill="none"/>
<circle cx="243.6" cy="518.4" r="5.9" fill="#e51e10"/><path d="M237.0 518.4h1.2M250.2 518.4h-1.2M243.6 511.8v1.2M243.6 525.0v-1.2" stroke="#e51e10" stroke-width="1" fill="none"/>
<circle cx="244.8" cy="518.9" r="5.9" fill="#e51e10"/><path d="M238.2 518.9h1.2M251.4 518.9h-1.2M244.8 512.3v1.2M244.8 525.5v-1.2" stroke="#e51e10" stroke-width="1" fill="none"/>
<circle cx="277.2" cy="518.6" r="5.9" fill="#e51e10"/><path d="M270.6 518.6h1.2M283.8 518.6h-1.2M277.2 512.0v1.2M277.2 525.2v-1.2" stroke="#e51e10" stroke-width="1" fill="none"/>
<circle cx="278.6" cy="518.5" r="5.9" fill="#e51e10"/><path d="M272.0 518.5h1.2M285.2 518.5h-1.2M278.6 511.9v1.2M278.6 525.1v-1.2" stroke="#e51e10" stroke-width="1" fill="none"/>
<circle cx="280.0" cy="518.5" r="5.9" fill="#e51e10"/><path d="M273.4 518.5h1.2M286.6 518.5h-1.2M280.0 511.9v1.2M280.0 525.1v-1.2" stroke="#e51e10" stroke-width="1" fill="none"/>
<circle cx="281.4" cy="518.9" r="5.9" fill="#e51e10"/><path d="M274.8 518.9h1.2M288.0 518.9h-1.2M281.4 512.3v1.2M281.4 525.5v-1.2" stroke="#e51e10" stroke-width="1" fill="none"/>
<circle cx="282.8" cy="518.4" r="5.9" fill="#e51e10"/><path d="M276.2 518.4h1.2M289.4 518.4h-1.2M282.8 511.8v1.2M282.8 525.0v-1.2" stroke="#e51e10" stroke-width="1" fill="none"/>
<circle cx="315.2" cy="518.8" r="5.9" fill="#e51e10"/><path d="M308.6 518.8h1.2M321.8 518.8h-1.2M315.2 512.2v1.2M315.2 525.4v-1.2" stroke="#e51e10" stroke-width="1" fill="none"/>
<circle cx="316.5" cy="518.8" r="5.9" fill="#e51e10"/><path d="M309.9 518.8h1.2M323.1 518.8h-1.2M316.5 512.2v1.2M316.5 525.4v-1.2" stroke="#e51e10" stroke-width="1" fill="none"/>
<circle cx="317.8" cy="518.6" r="5.9" fill="#e51e10"/><path d="M311.1 518.6h1.2M324.4 518.6h-1.2M317.8 512.0v1.2M317.8 525.2v-1.2" stroke="#e51e10" stroke-width="1" fill="none"/>
<circle cx="319.0" cy="518.5" r="5.9" fill="#e51e10"/><path d="M312.4 518.5h1.2M325.6 518.5h-1.2M319.0 511.9v1.2M319.0 525.1v-1.2" stroke="#e51e10" stroke-width="1" fill="none"/>
<circle cx="320.3" cy="518.5" r="5.9" fill="#e51e10"/><path d="M313.7 518.5h1.2M326.9 518.5h-1.2M320.3 511.9v1.2M320.3 525.1v-1.2" stroke="#e51e10" stroke-width="1" fill="none"/>
<circle cx="351.9" cy="518.6" r="5.9" fill="#e51e10"/><path d="M345.3 518.6h1.2M358.5 518.6h-1.2M351.9 512.0v1.2M351.9 525.2v-1.2" stroke="#e51e10" stroke-width="1" fill="none"/>
<circle cx="353.1" cy="518.5" r="5.9" fill="#e51e10"/><path d="M346.5 518.5h1.2M359.7 518.5h-1.2M353.1 511.9v1.2M353.1 525.1v-1.2" stroke="#e51e10" stroke-width="1" fill="none"/>
<circle cx="354.3" cy="518.7" r="5.9" fill="#e51e10"/><path d="M347.7 518.7h1.2M360.9 518.7h-1.2M354.3 512.1v1.2M354.3 525.3v-1.2" stroke="#e51e10" stroke-width="1" fill="none"/>
<circle cx="355.6" cy="518.5" r="5.9" fill="#e51e10"/><path d="M349.0 518.5h1.2M362.2 518.5h-1.2M355.6 511.9v1.2M355.6 525.1v-1.2" stroke="#e51e10" stroke-width="1" fill="none"/>
<circle cx="356.8" cy="518.4" r="5.9" fill="#e51e10"/><path d="M350.2 518.4h1.2M363.4 518.4h-1.2M356.8 511.8v1.2M356.8 525.0v-1.2" stroke="#e51e10" stroke-width="1" fill="none"/>
<circle cx="389.2" cy="518.8" r="5.9" fill="#e51e10"/><path d="M382.6 518.8h1.2M395.8 518.8h-1.2M389.2 512.2v1.2M389.2 525.4v-1.2" stroke="#e51e10" stroke-width="1" fill="none"/>
<circle cx="390.6" cy="518.6" r="5.9" fill="#e51e10"/><path d="M384.0 518.6h1.2M397.2 518.6h-1.2M390.6 512.0v1.2M390.6 525.2v-1.2" stroke="#e51e10" stroke-width="1" fill="none"/>
<circle cx="392.0" cy="518.6" r="5.9" fill="#e51e10"/><path d="M385.4 518.6h1.2M398.6 518.6h-1.2M392.0 512.0v1.2M392.0 525.2v-1.2" stroke="#e51e10" stroke-width="1" fill="none"/>
<circle cx="393.4" cy="518.9" r="5.9" fill="#e51e10"/><path d="M386.8 518.9h1.2M400.0 518.9h-1.2M393.4 512.3v1.2M393.4 525.5v-1.2" stroke="#e51e10" stroke-width="1" fill="none"/>
<circle cx="394.8" cy="518.6" r="5.9" fill="#e51e10"/><path d="M388.2 518.6h1.2M401.4 518.6h-1.2M394.8 512.0v1.2M394.8 525.2v-1.2" stroke="#e51e10" stroke-width="1" fill="none"/>
<circle cx="427.2" cy="518.5" r="5.9" fill="#e51e10"/><path d="M420.6 518.5h1.2M433.8 518.5h-1.2M427.2 511.9v1.2M427.2 525.1v-1.2" stroke="#e51e10" stroke-width="1" fill="none"/>
<circle cx="428.3" cy="518.9" r="5.9" fill="#e51e10"/><path d="M421.7 518.9h1.2M434.9 518.9h-1.2M428.3 512.3v1.2M428.3 525.5v-1.2" stroke="#e51e10" stroke-width="1" fill="none"/>
<circle cx="429.5" cy="519.0" r="5.9" fill="#e51e10"/><path d="M422.9 519.0h1.2M436.1 519.0h-1.2M429.5 512.4v1.2M429.5 525.6v-1.2" stroke="#e51e10" stroke-width="1" fill="none"/>
<circle cx="430.6" cy="518.8" r="5.9" fill="#e51e10"/><path d="M424.0 518.8h1.2M437.2 518.8h-1.2M430.6 512.2v1.2M430.6 525.4v-1.2" stroke="#e51e10" stroke-width="1" fill="none"/>
<circle cx="431.8" cy="518.5" r="5.9" fill="#e51e10"/><path d="M425.2 518.5h1.2M438.4 518.5h-1.2M431.8 511.9v1.2M431.8 525.1v-1.2" stroke="#e51e10" stroke-width="1" fill="none"/>
<circle cx="464.2" cy="518.7" r="5.9" fill="#e51e10"/><path d="M457.6 518.7h1.2M470.8 518.7h-1.2M464.2 512.1v1.2M464.2 525.3v-1.2" stroke="#e51e10" stroke-width="1" fill="none"/>
<circle cx="465.3" cy="518.8" r="5.9" fill="#e51e10"/><path d="M458.7 518.8h1.2M471.9 518.8h-1.2M465.3 512.2v1.2M465.3 525.4v-1.2" stroke="#e51e10" stroke-width="1" fill="none"/>
<circle cx="466.5" cy="518.4" r="5.9" fill="#e51e10"/><path d="M459.9 518.4h1.2M473.1 518.4h-1.2M466.5 511.8v1.2M466.5 525.0v-1.2" stroke="#e51e10" stroke-width="1" fill="none"/>
<circle cx="467.6" cy="518.8" r="5.9" fill="#e51e10"/><path d="M461.0 518.8h1.2M474.2 518.8h-1.2M467.6 512.2v1.2M467.6 525.4v-1.2" stroke="#e51e10" stroke-width="1" fill="none"/>
<circle cx="468.8" cy="519.0" r="5.9" fill="#e51e10"/><path d="M462.2 519.0h1.2M475.4 519.0h-1.2M468.8 512.4v1.2M468.8 525.6v-1.2" stroke="#e51e10" stroke-width="1" fill="none"/>
<circle cx="501.2" cy="518.7" r="5.9" fill="#e51e10"/><path d="M494.6 518.7h1.2M507.8 518.7h-1.2M501.2 512.1v1.2M501.2 525.3v-1.2" stroke="#e51e10" stroke-width="1" fill="none"/>
<circle cx="502.3" cy="518.7" r="5.9" fill="#e51e10"/><path d="M495.7 518.7h1.2M508.9 518.7h-1.2M502.3 512.1v1.2M502.3 525.3v-1.2" stroke="#e51e10" stroke-width="1" fill="none"/>
<circle cx="503.5" cy="518.5" r="5.9" fill="#e51e10"/><path d="M496.9 518.5h1.2M510.1 518.5h-1.2M503.5 511.9v1.2M503.5 525.1v-1.2" stroke="#e51e10" stroke-width="1" fill="none"/>
<circle cx="504.6" cy="518.7" r="5.9" fill="#e51e10"/><path d="M498.0 518.7h1.2M511.2 518.7h-1.2M504.6 512.1v1.2M504.6 525.3v-1.2" stroke="#e51e10" stroke-width="1" fill="none"/>
<circle cx="505.8" cy="518.4" r="5.9" fill="#e51e10"/><path d="M499.2 518.4h1.2M512.4 518.4h-1.2M505.8 511.8v1.2M505.8 525.0v-1.2" stroke="#e51e10" stroke-width="1" fill="none"/>
<circle cx="538.2" cy="518.8" r="5.9" fill="#e51e10"/><path d="M531.6 518.8h1.2M544.8 518.8h-1.2M538.2 512.2v1.2M538.2 525.4v-1.2" stroke="#e51e10" stroke-width="1" fill="none"/>
<circle cx="539.6" cy="518.6" r="5.9" fill="#e51e10"/><path d="M533.0 518.6h1.2M546.2 518.6h-1.2M539.6 512.0v1.2M539.6 525.2v-1.2" stroke="#e51e10" stroke-width="1" fill="none"/>
<circle cx="541.0" cy="519.0" r="5.9" fill="#e51e10"/><path d="M534.4 519.0h1.2M547.6 519.0h-1.2M541.0 512.4v1.2M541.0 525.6v-1.2" stroke="#e51e10" stroke-width="1" fill="none"/>
<circle cx="542.4" cy="518.5" r="5.9" fill="#e51e10"/><path d="M535.8 518.5h1.2M549.0 518.5h-1.2M542.4 511.9v1.2M542.4 525.1v-1.2" stroke="#e51e10" stroke-width="1" fill="none"/>
<circle cx="543.8" cy="518.8" r="5.9" fill="#e51e10"/><path d="M537.2 518.8h1.2M550.4 518.8h-1.2M543.8 512.2v1.2M543.8 525.4v-1.2" stroke="#e51e10" stroke-width="1" fill="none"/>
<circle cx="576.2" cy="518.2" r="5.9" fill="#e51e10"/><path d="M569.6 518.2h1.2M582.8 518.2h-1.2M576.2 511.6v1.2M576.2 524.8v-1.2" stroke="#e51e10" stroke-width="1" fill="none"/>
<circle cx="577.4" cy="518.5" r="5.9" fill="#e51e10"/><path d="M570.8 518.5h1.2M584.0 518.5h-1.2M577.4 511.9v1.2M577.4 525.1v-1.2" stroke="#e51e10" stroke-width="1" fill="none"/>
<circle cx="578.5" cy="518.8" r="5.9" fill="#e51e10"/><path d="M571.9 518.8h1.2M585.1 518.8h-1.2M578.5 512.2v1.2M578.5 525.4v-1.2" stroke="#e51e10" stroke-width="1" fill="none"/>
<circle cx="579.7" cy="518.4" r="5.9" fill="#e51e10"/><path d="M573.1 518.4h1.2M586.3 518.4h-1.2M579.7 511.8v1.2M579.7 525.0v-1.2" stroke="#e51e10" stroke-width="1" fill="none"/>
<circle cx="580.8" cy="518.7" r="5.9" fill="#e51e10"/><path d="M574.2 518.7h1.2M587.4 518.7h-1.2M580.8 512.1v1.2M580.8 525.3v-1.2" stroke="#e51e10" stroke-width="1" fill="none"/>
<circle cx="613.2" cy="518.4" r="5.9" fill="#e51e10"/><path d="M606.6 518.4h1.2M619.8 518.4h-1.2M613.2 511.8v1.2M613.2 525.0v-1.2" stroke="#e51e10" stroke-width="1" fill="none"/>
<circle cx="614.4" cy="518.5" r="5.9" fill="#e51e10"/><path d="M607.8 518.5h1.2M621.0 518.5h-1.2M614.4 511.9v1.2M614.4 525.1v-1.2" stroke="#e51e10" stroke-width="1" fill="none"/>
<circle cx="615.5" cy="519.0" r="5.9" fill="#e51e10"/><path d="M608.9 519.0h1.2M622.1 519.0h-1.2M615.5 512.4v1.2M615.5 525.6v-1.2" stroke="#e51e10" stroke-width="1" fill="none"/>
<circle cx="616.7" cy="518.4" r="5.9" fill="#e51e10"/><path d="M610.1 518.4h1.2M623.3 518.4h-1.2M616.7 511.8v1.2M616.7 525.0v-1.2" stroke="#e51e10" stroke-width="1" fill="none"/>
<circle cx="617.8" cy="518.9" r="5.9" fill="#e51e10"/><path d="M611.2 518.9h1.2M624.4 518.9h-1.2M617.8 512.3v1.2M617.8 525.5v-1.2" stroke="#e51e10" stroke-width="1" fill="none"/>
<circle cx="650.2" cy="518.2" r="5.9" fill="#e51e10"/><path d="M643.6 518.2h1.2M656.8 518.2h-1.2M650.2 511.6v1.2M650.2 524.8v-1.2" stroke="#e51e10" stroke-width="1" fill="none"/>
<circle cx="651.6" cy="518.7" r="5.9" fill="#e51e10"/><path d="M645.0 518.7h1.2M658.2 518.7h-1.2M651.6 512.1v1.2M651.6 525.3v-1.2" stroke="#e51e10" stroke-width="1" fill="none"/>
<circle cx="653.0" cy="518.9" r="5.9" fill="#e51e10"/><path d="M646.4 518.9h1.2M659.6 518.9h-1.2M653.0 512.3v1.2M653.0 525.5v-1.2" stroke="#e51e10" stroke-width="1" fill="none"/>
<circle cx="654.4" cy="518.9" r="5.9" fill="#e51e10"/><path d="M647.8 518.9h1.2M661.0 518.9h-1.2M654.4 512.3v1.2M654.4 525.5v-1.2" stroke="#e51e10" stroke-width="1" fill="none"/>
<circle cx="655.8" cy="518.5" r="5.9" fill="#e51e10"/><path d="M649.2 518.5h1.2M662.4 518.5h-1.2M655.8 511.9v1.2M655.8 525.1v-1.2" stroke="#e51e10" stroke-width="1" fill="none"/>
<circle cx="687.2" cy="518.7" r="5.9" fill="#e51e10"/><path d="M680.6 518.7h1.2M693.8 518.7h-1.2M687.2 512.1v1.2M687.2 525.3v-1.2" stroke="#e51e10" stroke-width="1" fill="none"/>
<circle cx="688.6" cy="518.8" r="5.9" fill="#e51e10"/><path d="M682.0 518.8h1.2M695.2 518.8h-1.2M688.6 512.2v1.2M688.6 525.4v-1.2" stroke="#e51e10" stroke-width="1" fill="none"/>
<circle cx="690.0" cy="518.8" r="5.9" fill="#e51e10"/><path d="M683.4 518.8h1.2M696.6 518.8h-1.2M690.0 512.2v1.2M690.0 525.4v-1.2" stroke="#e51e10" stroke-width="1" fill="none"/>
<circle cx="691.4" cy="518.8" r="5.9" fill="#e51e10"/><path d="M684.8 518.8h1.2M698.0 518.8h-1.2M691.4 512.2v1.2M691.4 525.4v-1.2" stroke="#e51e10" stroke-width="1" fill="none"/>
<circle cx="692.8" cy="518.7" r="5.9" fill="#e51e10"/><path d="M686.2 518.7h1.2M699.4 518.7h-1.2M692.8 512.1v1.2M692.8 525.3v-1.2" stroke="#e51e10" stroke-width="1" fill="none"/>
<circle cx="725.2" cy="518.4" r="5.9" fill="#e51e10"/><path d="M718.6 518.4h1.2M731.8 518.4h-1.2M725.2 511.8v1.2M725.2 525.0v-1.2" stroke="#e51e10" stroke-width="1" fill="none"/>
<circle cx="726.4" cy="518.8" r="5.9" fill="#e51e10"/><path d="M719.8 518.8h1.2M733.0 518.8h-1.2M726.4 512.2v1.2M726.4 525.4v-1.2" stroke="#e51e10" stroke-width="1" fill="none"/>
<circle cx="727.5" cy="518.6" r="5.9" fill="#e51e10"/><path d="M720.9 518.6h1.2M734.1 518.6h-1.2M727.5 512.0v1.2M727.5 525.2v-1.2" stroke="#e51e10" stroke-width="1" fill="none"/>
<circle cx="728.7" cy="518.6" r="5.9" fill="#e51e10"/><path d="M722.1 518.6h1.2M735.3 518.6h-1.2M728.7 512.0v1.2M728.7 525.2v-1.2" stroke="#e51e10" stroke-width="1" fill="none"/>
<circle cx="729.8" cy="519.0" r="5.9" fill="#e51e10"/><path d="M723.2 519.0h1.2M736.4 519.0h-1.2M729.8 512.4v1.2M729.8 525.6v-1.2" stroke="#e51e10" stroke-width="1" fill="none"/>
<circle cx="762.2" cy="518.3" r="5.9" fill="#e51e10"/><path d="M755.6 518.3h1.2M768.8 518.3h-1.2M762.2 511.7v1.2M762.2 524.9v-1.2" stroke="#e51e10" stroke-width="1" fill="none"/>
<circle cx="763.4" cy="518.8" r="5.9" fill="#e51e10"/><path d="M756.8 518.8h1.2M770.0 518.8h-1.2M763.4 512.2v1.2M763.4 525.4v-1.2" stroke="#e51e10" stroke-width="1" fill="none"/>
<circle cx="764.5" cy="518.5" r="5.9" fill="#e51e10"/><path d="M757.9 518.5h1.2M771.1 518.5h-1.2M764.5 511.9v1.2M764.5 525.1v-1.2" stroke="#e51e10" stroke-width="1" fill="none"/>
<circle cx="765.7" cy="518.8" r="5.9" fill="#e51e10"/><path d="M759.1 518.8h1.2M772.3 518.8h-1.2M765.7 512.2v1.2M765.7 525.4v-1.2" stroke="#e51e10" stroke-width="1" fill="none"/>
<circle cx="766.8" cy="519.0" r="5.9" fill="#e51e10"/><path d="M760.2 519.0h1.2M773.4 519.0h-1.2M766.8 512.4v1.2M766.8 525.6v-1.2" stroke="#e51e10" stroke-width="1" fill="none"/>
<circle cx="798.8" cy="518.4" r="5.9" fill="#e51e10"/><path d="M792.2 518.4h1.2M805.4 518.4h-1.2M798.8 511.8v1.2M798.8 525.0v-1.2" stroke="#e51e10" stroke-width="1" fill="none"/>
<circle cx="800.2" cy="518.7" r="5.9" fill="#e51e10"/><path d="M793.6 518.7h1.2M806.8 518.7h-1.2M800.2 512.1v1.2M800.2 525.3v-1.2" stroke="#e51e10" stroke-width="1" fill="none"/>
<circle cx="801.6" cy="518.6" r="5.9" fill="#e51e10"/><path d="M795.0 518.6h1.2M808.2 518.6h-1.2M801.6 512.0v1.2M801.6 525.2v-1.2" stroke="#e51e10" stroke-width="1" fill="none"/>
<circle cx="802.9" cy="518.6" r="5.9" fill="#e51e10"/><path d="M796.3 518.6h1.2M809.5 518.6h-1.2M802.9 512.0v1.2M802.9 525.2v-1.2" stroke="#e51e10" stroke-width="1" fill="none"/>
<circle cx="804.3" cy="518.3" r="5.9" fill="#e51e10"/><path d="M797.7 518.3h1.2M810.9 518.3h-1.2M804.3 511.7v1.2M804.3 524.9v-1.2" stroke="#e51e10" stroke-width="1" fill="none"/>
<circle cx="836.8" cy="518.7" r="5.9" fill="#e51e10"/><path d="M830.2 518.7h1.2M843.4 518.7h-1.2M836.8 512.1v1.2M836.8 525.3v-1.2" stroke="#e51e10" stroke-width="1" fill="none"/>
<circle cx="838.2" cy="518.9" r="5.9" fill="#e51e10"/><path d="M831.6 518.9h1.2M844.8 518.9h-1.2M838.2 512.3v1.2M838.2 525.5v-1.2" stroke="#e51e10" stroke-width="1" fill="none"/>
<circle cx="839.5" cy="518.7" r="5.9" fill="#e51e10"/><path d="M832.9 518.7h1.2M846.1 518.7h-1.2M839.5 512.1v1.2M839.5 525.3v-1.2" stroke="#e51e10" stroke-width="1" fill="none"/>
<circle cx="840.9" cy="518.4" r="5.9" fill="#e51e10"/><path d="M834.2 518.4h1.2M847.5 518.4h-1.2M840.9 511.8v1.2M840.9 525.0v-1.2" stroke="#e51e10" stroke-width="1" fill="none"/>
<circle cx="842.2" cy="518.8" r="5.9" fill="#e51e10"/><path d="M835.6 518.8h1.2M848.8 518.8h-1.2M842.2 512.2v1.2M842.2 525.4v-1.2" stroke="#e51e10" stroke-width="1" fill="none"/>
<circle cx="874.5" cy="518.5" r="5.9" fill="#e51e10"/><path d="M867.9 518.5h1.2M881.1 518.5h-1.2M874.5 511.9v1.2M874.5 525.1v-1.2" stroke="#e51e10" stroke-width="1" fill="none"/>
<circle cx="876.3" cy="518.3" r="5.9" fill="#e51e10"/><path d="M869.7 518.3h1.2M882.9 518.3h-1.2M876.3 511.7v1.2M876.3 524.9v-1.2" stroke="#e51e10" stroke-width="1" fill="none"/>
<circle cx="878.1" cy="518.7" r="5.9" fill="#e51e10"/><path d="M871.5 518.7h1.2M884.7 518.7h-1.2M878.1 512.1v1.2M878.1 525.3v-1.2" stroke="#e51e10" stroke-width="1" fill="none"/>
<circle cx="880.0" cy="518.6" r="5.9" fill="#e51e10"/><path d="M873.4 518.6h1.2M886.6 518.6h-1.2M880.0 512.0v1.2M880.0 525.2v-1.2" stroke="#e51e10" stroke-width="1" fill="none"/>
<circle cx="881.8" cy="518.6" r="5.9" fill="#e51e10"/><path d="M875.2 518.6h1.2M888.4 518.6h-1.2M881.8 512.0v1.2M881.8 525.2v-1.2" stroke="#e51e10" stroke-width="1" fill="none"/>
<circle cx="883.6" cy="519.0" r="5.9" fill="#e51e10"/><path d="M877.0 519.0h1.2M890.2 519.0h-1.2M883.6 512.4v1.2M883.6 525.6v-1.2" stroke="#e51e10" stroke-width="1" fill="none"/>
<circle cx="885.4" cy="518.7" r="5.9" fill="#e51e10"/><path d="M878.8 518.7h1.2M892.0 518.7h-1.2M885.4 512.1v1.2M885.4 525.3v-1.2" stroke="#e51e10" stroke-width="1" fill="none"/>
<circle cx="916.4" cy="519.0" r="5.9" fill="#e51e10"/><path d="M909.8 519.0h1.2M923.0 519.0h-1.2M916.4 512.4v1.2M916.4 525.6v-1.2" stroke="#e51e10" stroke-width="1" fill="none"/>
<circle cx="918.0" cy="518.5" r="5.9" fill="#e51e10"/><path d="M911.4 518.5h1.2M924.6 518.5h-1.2M918.0 511.9v1.2M918.0 525.1v-1.2" stroke="#e51e10" stroke-width="1" fill="none"/>
<circle cx="919.5" cy="518.8" r="5.9" fill="#e51e10"/><path d="M912.9 518.8h1.2M926.1 518.8h-1.2M919.5 512.2v1.2M919.5 525.4v-1.2" stroke="#e51e10" stroke-width="1" fill="none"/>
<circle cx="921.1" cy="518.3" r="5.9" fill="#e51e10"/><path d="M914.5 518.3h1.2M927.7 518.3h-1.2M921.1 511.7v1.2M921.1 524.9v-1.2" stroke="#e51e10" stroke-width="1" fill="none"/>
<circle cx="922.6" cy="518.4" r="5.9" fill="#e51e10"/><path d="M916.0 518.4h1.2M929.2 518.4h-1.2M922.6 511.8v1.2M922.6 525.0v-1.2" stroke="#e51e10" stroke-width="1" fill="none"/>
<circle cx="953.6" cy="518.8" r="5.9" fill="#e51e10"/><path d="M947.0 518.8h1.2M960.2 518.8h-1.2M953.6 512.2v1.2M953.6 525.4v-1.2" stroke="#e51e10" stroke-width="1" fill="none"/>
<circle cx="955.1" cy="518.8" r="5.9" fill="#e51e10"/><path d="M948.5 518.8h1.2M961.8 518.8h-1.2M955.1 512.2v1.2M955.1 525.4v-1.2" stroke="#e51e10" stroke-width="1" fill="none"/>
<circle cx="956.7" cy="518.9" r="5.9" fill="#e51e10"/><path d="M950.1 518.9h1.2M963.3 518.9h-1.2M956.7 512.3v1.2M956.7 525.5v-1.2" stroke="#e51e10" stroke-width="1" fill="none"/>
<circle cx="958.2" cy="518.5" r="5.9" fill="#e51e10"/><path d="M951.6 518.5h1.2M964.9 518.5h-1.2M958.2 511.9v1.2M958.2 525.1v-1.2" stroke="#e51e10" stroke-width="1" fill="none"/>
<circle cx="959.8" cy="518.4" r="5.9" fill="#e51e10"/><path d="M953.2 518.4h1.2M966.4 518.4h-1.2M959.8 511.8v1.2M959.8 525.0v-1.2" stroke="#e51e10" stroke-width="1" fill="none"/>
<path d="M169.5 444.0L177.8 456.5H161.2Z" stroke="#000" stroke-width="1.1" fill="none" stroke-linejoin="miter"/>
<path d="M283.5 444.0L291.8 456.5H275.2Z" stroke="#000" stroke-width="1.1" fill="none" stroke-linejoin="miter"/>
<path d="M512.5 444.0L520.8 456.5H504.2Z" stroke="#000" stroke-width="1.1" fill="none" stroke-linejoin="miter"/>
<path d="M163.2 413.3H176.0M169.6 406.9V419.7" stroke="#9400d3" stroke-width="1" fill="none"/>
<path d="M923 90.5H970" stroke="#9400d3" stroke-width="1"/>
<path d="M923 109.5H970" stroke="#009e73" stroke-width="1"/>
<rect x="940.3" y="122.2" width="12.4" height="12.4" stroke="#e69f00" stroke-width="1" fill="none"/>
<rect x="940.1" y="141.1" width="12.8" height="12.8" fill="#f0e442"/>
<circle cx="946.3" cy="166.2" r="5.1" stroke="#0072b2" stroke-width="1.15" fill="none"/><path d="M939.9 166.2h1.2M952.7 166.2h-1.2M946.3 159.8v1.2M946.3 172.6v-1.2" stroke="#0072b2" stroke-width="1" fill="none"/>
<circle cx="946.3" cy="185.0" r="5.9" fill="#e51e10"/><path d="M939.7 185.0h1.2M952.9 185.0h-1.2M946.3 178.4v1.2M946.3 191.6v-1.2" stroke="#e51e10" stroke-width="1" fill="none"/>
<path d="M946.4 196.3L954.7 208.8H938.1Z" stroke="#000" stroke-width="1.1" fill="none" stroke-linejoin="miter"/>
<path d="M940.0 223.3H952.8M946.4 216.9V229.7" stroke="#9400d3" stroke-width="1" fill="none"/>
<path d="M94.5 74.5H989.5V522.5H94.5Z" stroke="#000" stroke-width="1" fill="none"/>
</svg>
</body></html>
